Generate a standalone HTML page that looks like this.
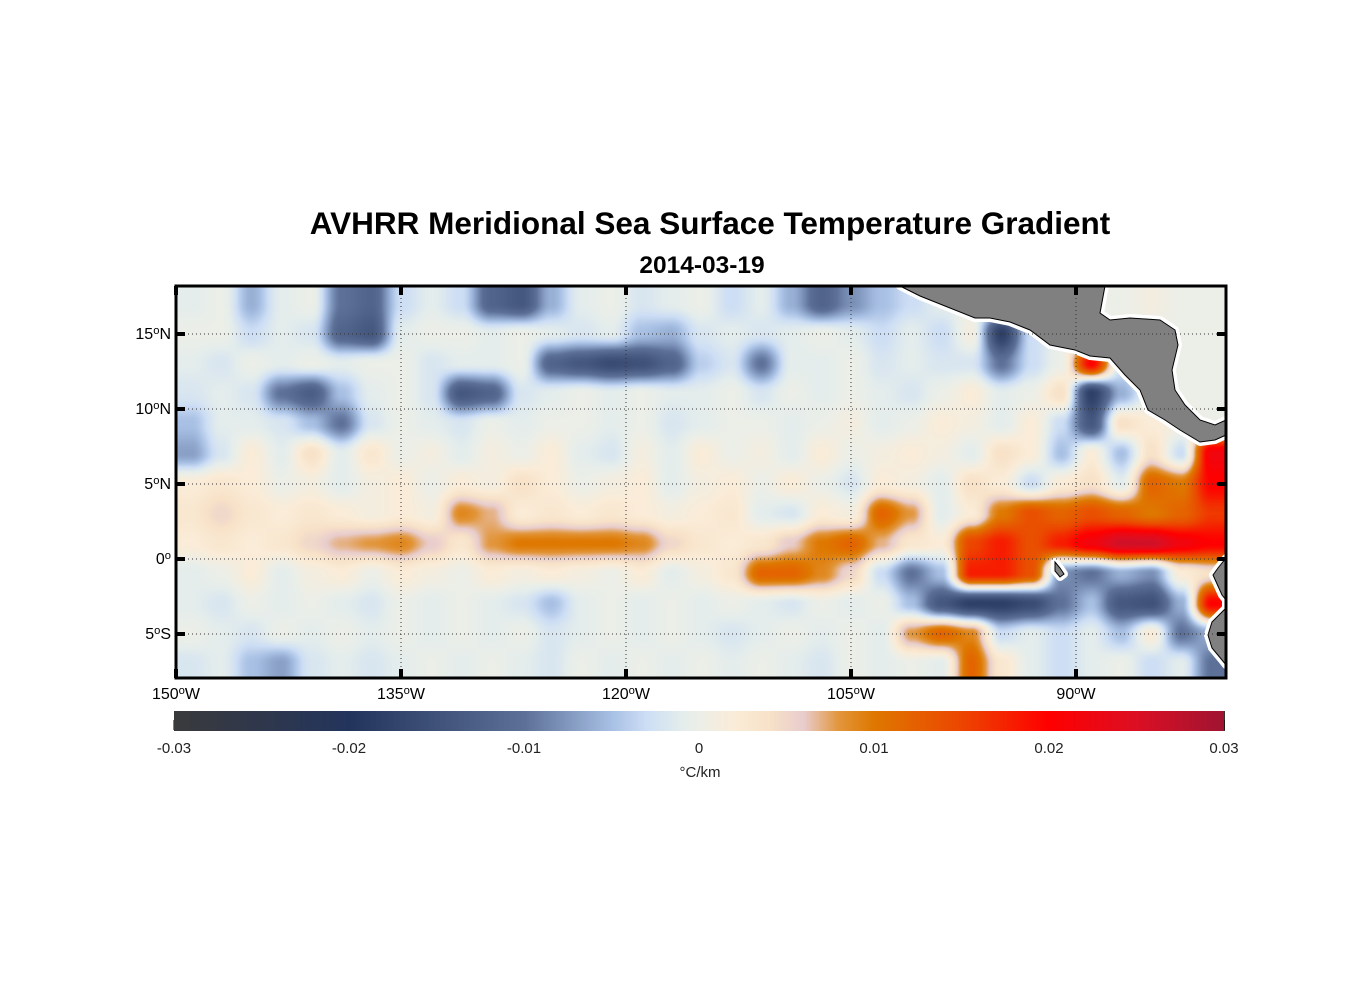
<!DOCTYPE html>
<html><head><meta charset="utf-8">
<style>
body{margin:0;background:#fff;width:1356px;height:1000px;position:relative;overflow:hidden;font-family:"Liberation Sans",Arial,sans-serif;}
.t{position:absolute;white-space:nowrap;color:#000;}
sup{font-size:70%;vertical-align:0.45em;line-height:0}
</style></head><body>
<div class="t" style="left:0;width:1420px;text-align:center;top:205px;font-size:31.5px;font-weight:bold">AVHRR Meridional Sea Surface Temperature Gradient</div>
<div class="t" style="left:0;width:1404px;text-align:center;top:252px;font-size:24.5px;font-weight:bold">2014-03-19</div>
<canvas id="map" width="1050" height="392" style="position:absolute;left:176px;top:286px"></canvas>
<svg id="ov" width="1356" height="1000" style="position:absolute;left:0;top:0"></svg>
<canvas id="cb" width="1050" height="20" style="position:absolute;left:174px;top:711px"></canvas>
<div id="labels"></div>
<script>
// grid: 2 deg cells, lon 150W..80W (35 cols), lat 18N..8S (13 rows); values in 0.001 C/km
const lats=[17,15,13,11,9,7,5,3,1,-1,-3,-5,-7];
const row0=[-1,0,-6,-1,0,-10,-12,-3,-1,-3,-12,-14,-6,-1,0,-2,-1,0,-3,-1,-6,-12,-8,-5,-3,-1,0,0,0,0,0,0,1,0,0];
const row1=[0,0,-3,-1,-2,-12,-14,-1,0,0,-1,0,-1,-2,-1,-5,-6,-2,-1,-2,-1,0,-1,-3,-1,-3,1,-18,-3,0,0,0,0,0,0];
const row2=[-1,-2,0,-1,0,-1,0,0,-2,-1,-1,0,-12,-14,-16,-15,-12,-4,-2,-10,-1,-1,0,-2,-1,-2,-2,-10,-3,0,20,-2,0,0,0];
const row3=[-2,-1,-2,-10,-13,-5,-1,0,-2,-14,-12,-2,-1,0,-1,0,-1,-1,0,-2,0,-1,0,-1,-2,0,2,-1,0,4,-18,-6,0,0,0];
const row4=[-5,-1,-1,-2,-5,-10,-2,0,-1,-2,0,-1,0,0,-1,0,-2,-1,0,0,-1,0,1,-1,0,2,1,-1,2,-3,-14,4,2,1,0];
const row5=[-7,-2,2,-1,4,-1,3,0,1,-1,1,0,2,-1,-2,1,-1,2,0,1,-1,2,0,1,2,1,-1,4,2,-5,2,-5,4,-3,22];
const row6=[2,3,2,0,1,-1,1,2,0,2,1,4,2,0,1,2,-1,1,2,0,2,0,-2,2,1,-1,4,2,-3,2,4,-1,12,10,20];
const row7=[3,5,3,2,3,2,1,2,1,9,7,2,3,2,3,2,1,2,3,-1,-2,2,1,12,8,-1,2,10,14,12,14,12,10,12,16];
const row8=[2,3,2,3,5,7,8,9,6,3,8,10,10,10,10,9,5,3,2,3,6,10,12,7,3,2,15,18,14,18,22,26,26,22,20];
const row9=[-1,0,2,-1,1,2,0,2,1,0,2,1,2,1,0,2,-1,1,3,12,12,9,5,-3,-10,-5,18,18,14,-8,-10,-6,-8,2,4];
const row10=[-1,-2,0,-1,0,-1,-2,0,-1,0,-1,-2,-5,-1,0,-1,0,-1,0,-1,-2,0,-1,0,-5,-14,-18,-18,-16,-10,-5,-14,-15,-6,20];
const row11=[0,-1,-2,0,-1,0,-1,0,-1,0,-1,0,-2,-1,0,-1,0,-1,-2,-1,0,-1,0,-1,8,12,9,-3,-1,-3,-1,-5,2,-10,-6];
const row12=[-2,-1,-5,-7,-2,-1,-2,-1,0,-1,0,-1,-2,0,-1,0,-1,0,-1,0,-1,-2,0,-1,0,-1,12,3,-1,-3,-1,0,-3,-1,-10];
const grid=[row0,row1,row2,row3,row4,row5,row6,row7,row8,row9,row10,row11,row12];
const cbTicks=[-0.03,-0.02,-0.01,0,0.01,0.02,0.03];
const cbLabels=["-0.03","-0.02","-0.01","0","0.01","0.02","0.03"];
const lonTicks=[150,135,120,105,90];
const latTicks=[15,10,5,0,-5];
const stops=[[-0.03,[58,58,60]],[-0.02,[35,52,92]],[-0.01,[92,112,152]],[-0.005,[168,192,228]],[-0.003,[205,222,245]],[-0.001,[228,237,236]],[0,[236,238,232]],[0.002,[250,236,216]],[0.004,[248,226,200]],[0.006,[232,205,205]],[0.008,[226,150,60]],[0.01,[222,120,0]],[0.015,[236,70,0]],[0.02,[255,0,0]],[0.025,[220,15,35]],[0.03,[160,20,50]]];
function cmap(v){
  if(v<=stops[0][0])return stops[0][1];
  for(let i=1;i<stops.length;i++){if(v<=stops[i][0]){const a=stops[i-1],b=stops[i],t=(v-a[0])/(b[0]-a[0]);return [0,1,2].map(k=>a[1][k]+(b[1][k]-a[1][k])*t);}}
  return stops[stops.length-1][1];
}
const X0=176,X1=1226,Y0=286,Y1=678;
const lonX=l=>X0+(150-l)*15, latY=l=>559-l*15;
(function(){
  const c=document.getElementById('map'),ctx=c.getContext('2d'),W=1050,H=392,im=ctx.createImageData(W,H);
  const nr=grid.length,nc=grid[0].length;
  for(let py=0;py<H;py++){
    const lat=18.13-py/15; let gy=(17-lat)/2; gy=Math.max(0,Math.min(nr-1,gy));
    const r0=Math.floor(gy),r1=Math.min(nr-1,r0+1),fy=gy-r0;
    for(let px=0;px<W;px++){
      const lon=150-px/15; let gx=(149-lon)/2; gx=Math.max(0,Math.min(nc-1,gx));
      const c0=Math.floor(gx),c1=Math.min(nc-1,c0+1),fx=gx-c0;
      let s=fx*fx*(3-2*fx), t=fy*fy*(3-2*fy);
      const v=((grid[r0][c0]*(1-s)+grid[r0][c1]*s)*(1-t)+(grid[r1][c0]*(1-s)+grid[r1][c1]*s)*t)/1000;
      const col=cmap(v),i=(py*W+px)*4;
      im.data[i]=col[0];im.data[i+1]=col[1];im.data[i+2]=col[2];im.data[i+3]=255;
    }
  }
  ctx.putImageData(im,0,0);
  const cb=document.getElementById('cb').getContext('2d');
  for(let x=0;x<1050;x++){const col=cmap(-0.03+0.06*x/1049);cb.fillStyle=`rgb(${col.map(Math.round).join(',')})`;cb.fillRect(x,0,1,20);}
})();
const NS='http://www.w3.org/2000/svg',ov=document.getElementById('ov');
function mk(tag,at,name,par){const e=document.createElementNS(NS,tag);for(const k in at)e.setAttribute(k,at[k]);


(par||ov).appendChild(e);return e;}
const land1="900,286 1105,286 1100,313 1110,320 1130,318 1160,320 1175,330 1178,345 1172,370 1175,390 1185,405 1200,420 1215,425 1226,420 1226,435 1215,440 1200,442 1180,430 1165,420 1148,410 1140,390 1125,375 1110,358 1090,356 1075,350 1050,345 1030,330 1010,322 990,318 975,318 945,306 920,296";
const land2="1226,558 1218,568 1213,575 1222,595 1226,600 1226,608 1212,622 1208,635 1212,648 1222,660 1226,665";
const land3="1055,562 1060,568 1064,574 1060,577 1055,571";
[land1,land2,land3].forEach(p=>{
  mk('polygon',{points:p,fill:'none',stroke:'#fff','stroke-width':8,'stroke-linejoin':'round'},'land-halo');
});
[land1,land2,land3].forEach((p,i)=>{
  mk('polygon',{points:p,fill:'#808080',stroke:'#000','stroke-width':1},['central-america-land','south-america-land','galapagos-island'][i]);
});
mk('rect',{x:1226,y:280,width:20,height:400,fill:'#fff'},'right-mask');
lonTicks.slice(1).forEach(l=>mk('line',{x1:lonX(l),x2:lonX(l),y1:Y0,y2:Y1,stroke:'#333','stroke-width':1,'stroke-dasharray':'1,3'},'lon-gridline'));
latTicks.forEach(l=>mk('line',{x1:X0,x2:X1,y1:latY(l),y2:latY(l),stroke:'#333','stroke-width':1,'stroke-dasharray':'1,3'},'lat-gridline'));
lonTicks.forEach(l=>{const x=lonX(l);mk('line',{x1:x,x2:x,y1:Y0,y2:Y0+9,stroke:'#000','stroke-width':4},'x-tick-top');mk('line',{x1:x,x2:x,y1:Y1-9,y2:Y1,stroke:'#000','stroke-width':4},'x-tick-bottom');});
latTicks.forEach(l=>{const y=latY(l);mk('line',{x1:X0,x2:X0+9,y1:y,y2:y,stroke:'#000','stroke-width':4},'y-tick-left');mk('line',{x1:X1-9,x2:X1,y1:y,y2:y,stroke:'#000','stroke-width':4},'y-tick-right');});
mk('rect',{x:X0,y:Y0,width:X1-X0,height:Y1-Y0,fill:'none',stroke:'#000','stroke-width':3},'map-frame');
mk('rect',{x:174.5,y:711.5,width:1050,height:19,fill:'none',stroke:'#333','stroke-width':1},'colorbar-frame');
cbTicks.forEach(v=>{const x=174+(v+0.03)/0.06*1050;mk('line',{x1:x,x2:x,y1:720,y2:730,stroke:'#000','stroke-width':1},'colorbar-tick');});
const L=document.getElementById('labels');
function lab(html,css,name){const d=document.createElement('div');d.className='t';d.innerHTML=html;d.style.cssText=css;


L.appendChild(d);}
lonTicks.forEach(l=>lab(l+'<sup>o</sup>W',`left:${lonX(l)-60}px;width:120px;text-align:center;top:686px;font-size:16px`,'x-tick-label'));
latTicks.forEach(l=>{const t=l===0?'0<sup>o</sup>':Math.abs(l)+'<sup>o</sup>'+(l>0?'N':'S');lab(t,`left:50px;width:121px;text-align:right;top:${latY(l)-8}px;font-size:16px`,'y-tick-label');});
cbTicks.forEach((v,i)=>lab(cbLabels[i],`left:${174+(v+0.03)/0.06*1050-50}px;width:100px;text-align:center;top:740px;font-size:15px;color:#222`,'colorbar-tick-label'));
lab('°C/km','left:650px;width:100px;text-align:center;top:764px;font-size:15px;color:#222','colorbar-unit-label');
</script>
</body></html>
